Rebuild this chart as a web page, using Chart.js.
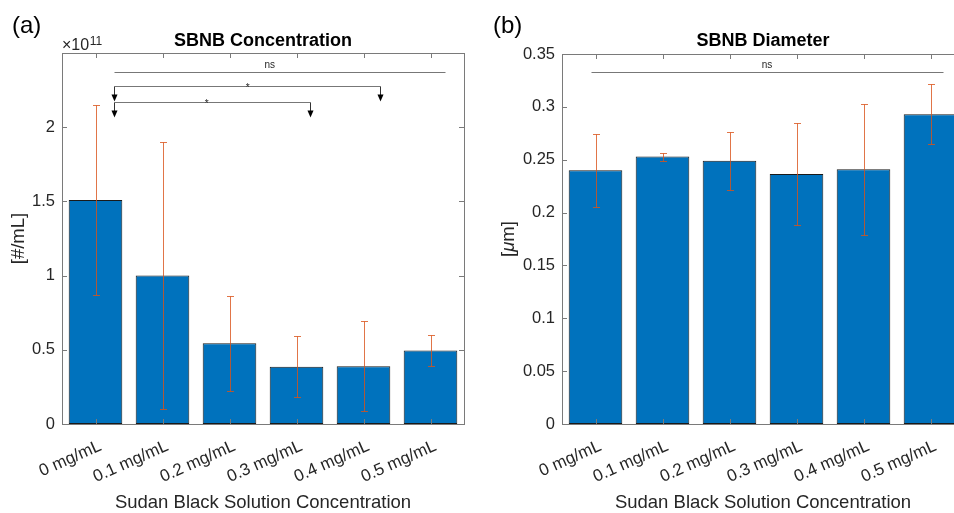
<!DOCTYPE html>
<html>
<head>
<meta charset="utf-8">
<script src="https://cdn.jsdelivr.net/npm/chart.js@4.4.0/dist/chart.umd.min.js"></script>
<style>
  html, body { margin: 0; padding: 0; background: #fff; overflow: hidden; }
  #wrap { position: relative; width: 954px; height: 513px; overflow: hidden; }
  canvas { position: absolute; top: 0; }
  #concChart { left: 0; }
  #diamChart { left: 477px; }
</style>
</head>
<body>
<div id="wrap">
  <canvas id="concChart" width="477" height="513"></canvas>
  <canvas id="diamChart" width="500" height="513"></canvas>
</div>
<script>
const categories = ['0 mg/mL', '0.1 mg/mL', '0.2 mg/mL', '0.3 mg/mL', '0.4 mg/mL', '0.5 mg/mL'];

// panel (a): concentration, #/mL
const concMean = [1.51e11, 1.00e11, 0.544e11, 0.386e11, 0.389e11, 0.495e11];
const concErr = [0.64e11, 0.90e11, 0.319e11, 0.205e11, 0.303e11, 0.105e11];
const concTicks = [0, 0.5e11, 1e11, 1.5e11, 2e11];

// panel (b): diameter, um
const diamMean = [0.240, 0.253, 0.249, 0.2366, 0.241, 0.293];
const diamErr = [0.0347, 0.0038, 0.0276, 0.048, 0.062, 0.0284];
const diamTicks = [0, 0.05, 0.1, 0.15, 0.2, 0.25, 0.3, 0.35];

// significance brackets (x in category index units)
const concSigLabels = ['ns', '*', '*'];
const concSigFrom = [0.28, 0.28, 0.28];
const concSigTo = [5.22, 4.25, 3.2];
const concSigY = [2.37e11, 2.28e11, 2.17e11];
const concSigTextX = [2.6, 2.27, 1.66];
const concSigArrows = [false, true, true];

const diamSigLabels = ['ns'];
const diamSigFrom = [-0.07];
const diamSigTo = [5.18];
const diamSigY = [0.333];
const diamSigTextX = [2.56];
const diamSigArrows = [false];

const FONT = "'Liberation Sans', Arial, Helvetica, sans-serif";
const TXT = '#262626';

function makeDecor(cfg) {
  return {
    id: 'decor',
    afterDatasetsDraw(chart) {
      const ctx = chart.ctx, y = chart.scales.y;
      const meta = chart.getDatasetMeta(0);
      ctx.save();
      ctx.strokeStyle = 'rgba(217,83,25,0.8)';
      ctx.lineWidth = 1;
      cfg.mean.forEach((v, i) => {
        const px = Math.round(meta.data[i].x) + 0.5;
        const top = Math.round(y.getPixelForValue(v + cfg.err[i])) + 0.5;
        const bot = Math.round(y.getPixelForValue(v - cfg.err[i])) + 0.5;
        ctx.beginPath();
        ctx.moveTo(px, top); ctx.lineTo(px, bot);
        ctx.moveTo(px - 3.5, top); ctx.lineTo(px + 3.5, top);
        ctx.moveTo(px - 3.5, bot); ctx.lineTo(px + 3.5, bot);
        ctx.stroke();
      });
      ctx.restore();
    },
    afterDraw(chart) {
      const ctx = chart.ctx, a = chart.chartArea;
      const x = chart.scales.x, y = chart.scales.y;
      ctx.save();
      // axes box
      ctx.strokeStyle = '#7a7a7a';
      ctx.lineWidth = 1;
      ctx.strokeRect(Math.round(a.left) + 0.5, Math.round(a.top) + 0.5,
        Math.round(a.right - a.left), Math.round(a.bottom - a.top));
      // inward ticks
      ctx.beginPath();
      y.ticks.forEach(t => {
        const py = Math.round(y.getPixelForValue(t.value)) + 0.5;
        ctx.moveTo(a.left, py); ctx.lineTo(a.left + 5, py);
        ctx.moveTo(a.right, py); ctx.lineTo(a.right - 5, py);
      });
      categories.forEach((c, i) => {
        const px = Math.round(x.getPixelForValue(i)) + 0.5;
        ctx.moveTo(px, a.bottom); ctx.lineTo(px, a.bottom - 5);
        ctx.moveTo(px, a.top); ctx.lineTo(px, a.top + 5);
      });
      ctx.stroke();

      // significance brackets
      cfg.sigLabels.forEach((lab, k) => {
        const x1 = Math.round(x.getPixelForValue(cfg.sigFrom[k])) + 0.5;
        const x2 = Math.round(x.getPixelForValue(cfg.sigTo[k])) + 0.5;
        const py = Math.round(y.getPixelForValue(cfg.sigY[k])) + 0.5;
        ctx.strokeStyle = '#777';
        ctx.beginPath();
        ctx.moveTo(x1, py); ctx.lineTo(x2, py);
        ctx.stroke();
        if (cfg.sigArrows[k]) {
          ctx.strokeStyle = '#333';
          ctx.beginPath();
          ctx.moveTo(x1, py); ctx.lineTo(x1, py + 9);
          ctx.moveTo(x2, py); ctx.lineTo(x2, py + 9);
          ctx.stroke();
          ctx.fillStyle = '#000';
          [x1, x2].forEach(ax => {
            ctx.beginPath();
            ctx.moveTo(ax - 3, py + 8);
            ctx.lineTo(ax + 3, py + 8);
            ctx.lineTo(ax, py + 15);
            ctx.closePath();
            ctx.fill();
          });
        }
        ctx.fillStyle = TXT;
        ctx.font = '10px ' + FONT;
        ctx.textAlign = 'center';
        ctx.textBaseline = 'alphabetic';
        const tx = x.getPixelForValue(cfg.sigTextX[k]);
        ctx.fillText(lab, tx, lab === '*' ? py + 4 : py - 5);
      });

      // panel letter
      ctx.fillStyle = '#000';
      ctx.font = '24px ' + FONT;
      ctx.textAlign = 'left';
      ctx.textBaseline = 'alphabetic';
      ctx.fillText(cfg.letter, cfg.letterX, 33);

      // title
      const cx = (a.left + a.right) / 2;
      ctx.fillStyle = '#000';
      ctx.font = 'bold 18px ' + FONT;
      ctx.textAlign = 'center';
      ctx.fillText(cfg.title, cx, 46);

      // exponent
      if (cfg.exponent) {
        ctx.fillStyle = TXT;
        ctx.font = '16px ' + FONT;
        ctx.textAlign = 'left';
        ctx.fillText('\u00d710', a.left, 50);
        const w = ctx.measureText('\u00d710').width;
        ctx.font = '12px ' + FONT;
        ctx.fillText(cfg.exponent, a.left + w + 0.5, 45);
      }

      // x title
      ctx.fillStyle = TXT;
      ctx.font = '18.5px ' + FONT;
      ctx.textAlign = 'center';
      ctx.fillText('Sudan Black Solution Concentration', cx, 508);

      // y title (pieces so the unit symbol can be italic)
      ctx.translate(cfg.yTitleX, (a.top + a.bottom) / 2);
      ctx.rotate(-Math.PI / 2);
      ctx.textBaseline = 'middle';
      ctx.textAlign = 'left';
      const fonts = cfg.yTitle.map(p => (p.italic ? 'italic ' : '') + '18.5px ' + FONT);
      let total = 0;
      cfg.yTitle.forEach((p, i) => { ctx.font = fonts[i]; total += ctx.measureText(p.text).width; });
      let cur = -total / 2;
      cfg.yTitle.forEach((p, i) => {
        ctx.font = fonts[i];
        ctx.fillText(p.text, cur, 0);
        cur += ctx.measureText(p.text).width;
      });
      ctx.restore();
    }
  };
}

function makePanel(id, cfg) {
  return new Chart(document.getElementById(id), {
    type: 'bar',
    data: {
      labels: categories,
      datasets: [{
        data: cfg.mean,
        backgroundColor: '#0072BD',
        borderColor: '#1a1a1a',
        borderWidth: 1,
        borderSkipped: false,
        barPercentage: 0.8,
        categoryPercentage: 1.0
      }]
    },
    options: {
      responsive: false,
      animation: false,
      devicePixelRatio: 1,
      layout: { padding: { left: 0, top: cfg.padTop, right: cfg.padRight, bottom: 0 } },
      plugins: { legend: { display: false }, tooltip: { enabled: false } },
      scales: {
        x: {
          grid: { display: false, drawTicks: false },
          border: { display: false },
          ticks: {
            autoSkip: false, minRotation: 24, maxRotation: 24,
            padding: 12, labelOffset: 5,
            color: TXT, font: { family: FONT, size: 17 }
          },
          afterFit: s => { s.height = 89; }
        },
        y: {
          min: 0, max: cfg.max,
          grid: { display: false, drawTicks: false },
          border: { display: false },
          afterBuildTicks: s => { s.ticks = cfg.ticks.map(v => ({ value: v })); },
          ticks: {
            padding: 7, color: TXT, font: { family: FONT, size: 16.5 },
            callback: v => String(v / cfg.tickScale)
          },
          afterFit: s => { s.width = cfg.axisW; }
        }
      }
    },
    plugins: [makeDecor(cfg)]
  });
}

makePanel('concChart', {
  mean: concMean, err: concErr, ticks: concTicks, max: 2.5e11, tickScale: 1e11,
  padTop: 53, padRight: 13, axisW: 62,
  sigLabels: concSigLabels, sigFrom: concSigFrom, sigTo: concSigTo, sigY: concSigY,
  sigTextX: concSigTextX, sigArrows: concSigArrows,
  letter: '(a)', letterX: 12, title: 'SBNB Concentration', exponent: '11',
  yTitleX: 18.5, yTitle: [{ text: '[#/mL]' }]
});

makePanel('diamChart', {
  mean: diamMean, err: diamErr, ticks: diamTicks, max: 0.35, tickScale: 1,
  padTop: 54, padRight: 13, axisW: 85,
  sigLabels: diamSigLabels, sigFrom: diamSigFrom, sigTo: diamSigTo, sigY: diamSigY,
  sigTextX: diamSigTextX, sigArrows: diamSigArrows,
  letter: '(b)', letterX: 16, title: 'SBNB Diameter', exponent: null,
  yTitleX: 32, yTitle: [{ text: '[' }, { text: '\u03bc', italic: true }, { text: 'm]' }]
});
</script>
</body>
</html>
